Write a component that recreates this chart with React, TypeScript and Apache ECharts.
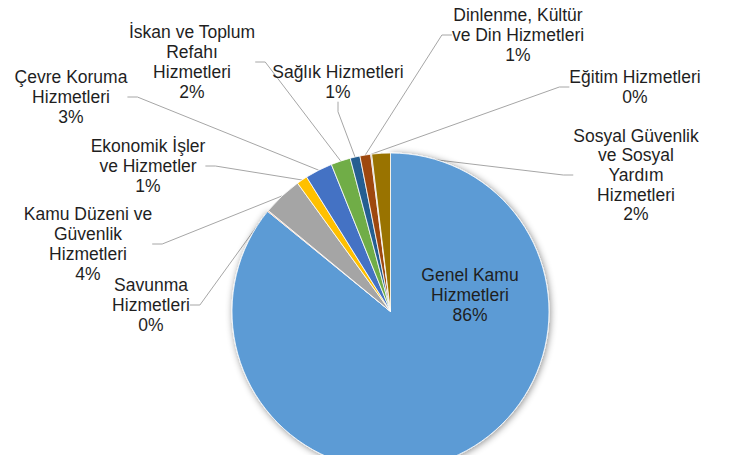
import React, { useEffect, useRef } from "react";
import * as echarts from "echarts";

const categories = [
  "Genel Kamu Hizmetleri",
  "Savunma Hizmetleri",
  "Kamu Düzeni ve Güvenlik Hizmetleri",
  "Ekonomik İşler ve Hizmetler",
  "Çevre Koruma Hizmetleri",
  "İskan ve Toplum Refahı Hizmetleri",
  "Sağlık Hizmetleri",
  "Dinlenme, Kültür ve Din Hizmetleri",
  "Eğitim Hizmetleri",
  "Sosyal Güvenlik ve Sosyal Yardım Hizmetleri",
];

const labelTexts = [
  "Genel Kamu\nHizmetleri",
  "Savunma\nHizmetleri",
  "Kamu Düzeni ve\nGüvenlik\nHizmetleri",
  "Ekonomik İşler\nve Hizmetler",
  "Çevre Koruma\nHizmetleri",
  "İskan ve Toplum\nRefahı\nHizmetleri",
  "Sağlık Hizmetleri",
  "Dinlenme, Kültür\nve Din Hizmetleri",
  "Eğitim Hizmetleri",
  "Sosyal Güvenlik\nve Sosyal\nYardım\nHizmetleri",
];

// share values (percent)
const values = [86.1, 0.1, 4.05, 1.1, 2.8, 2.0, 1.0, 1.1, 0.1, 1.9];

const colors = [
  "#5B9BD5", "#ED7D31", "#A5A5A5", "#FFC000", "#4472C4",
  "#70AD47", "#255E91", "#9E480E", "#636363", "#997300",
];

// label block centres (x, y) in pixels
const labelPositions: [number, number][] = [
  [470, 295],
  [151, 305],
  [88, 244],
  [148, 166],
  [71, 97],
  [192, 62],
  [338, 82],
  [518, 35],
  [635, 87],
  [636, 175],
];

export default function App() {
  const ref = useRef<HTMLDivElement>(null);
  useEffect(() => {
    if (!ref.current) return;
    const chart = echarts.init(ref.current, undefined, { renderer: "svg" });
    const data = categories.map((name, i) => ({
      name,
      value: values[i],
      itemStyle:
        i === 0
          ? {
              color: colors[i],
              shadowBlur: 7,
              shadowColor: "rgba(0,0,0,0.45)",
              shadowOffsetX: 1,
              shadowOffsetY: 1,
            }
          : { color: colors[i] },
      labelLine: { show: i !== 0 },
    }));
    chart.setOption({
      animation: false,
      backgroundColor: "#ffffff",
      series: [
        {
          type: "pie",
          center: [390.5, 311.5],
          radius: 158.5,
          startAngle: 90,
          clockwise: true,
          avoidLabelOverlap: false,
          data,
          itemStyle: { borderColor: "#ffffff", borderWidth: 0.8 },
          label: {
            show: true,
            position: "outside",
            fontFamily: "Liberation Sans, Arial, sans-serif",
            fontSize: 17.5,
            lineHeight: 19.7,
            color: "#1f1f1f",
            align: "center",
            formatter: (p: any) =>
              labelTexts[p.dataIndex] + "\n" + Math.round(p.percent) + "%",
          },
          labelLine: {
            show: true,
            length: 10,
            length2: 10,
            lineStyle: { color: "#a6a6a6", width: 1 },
          },
          labelLayout: (params: any) => {
            const pos = labelPositions[params.dataIndex];
            return {
              x: pos[0],
              y: pos[1],
              align: "center",
              verticalAlign: "middle",
            };
          },
          emphasis: { disabled: true },
        },
      ],
    });
    return () => chart.dispose();
  }, []);
  return (
    <div
      ref={ref}
      style={{ position: "fixed", left: 0, top: 0, width: 731, height: 455 }}
    />
  );
}
